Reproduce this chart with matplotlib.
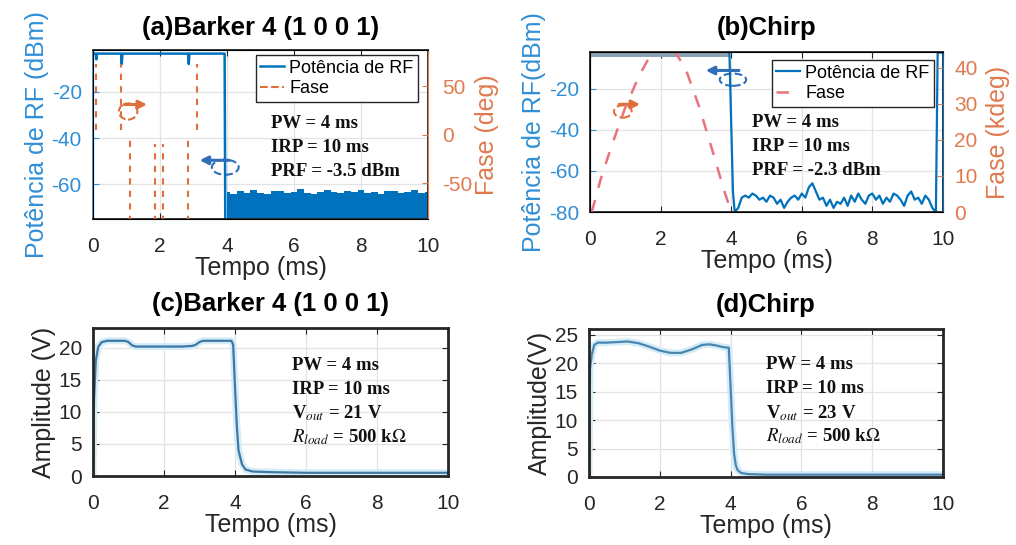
import numpy as np
import matplotlib
matplotlib.use("Agg")
import matplotlib.pyplot as plt
from matplotlib.patches import Ellipse

plt.rcParams['font.family'] = ['Liberation Sans', 'DejaVu Sans']
plt.rcParams['mathtext.fontset'] = 'stix'
plt.rcParams['axes.unicode_minus'] = False

# -----------------------------
# Data
# -----------------------------
# (a) Barker 4 - RF power during the pulse (dBm)
barker_t = [0.0, 0.08, 0.10, 0.12, 0.84, 0.86, 0.88, 2.84, 2.86, 2.88, 3.93, 3.95]
barker_p = [-3.5, -3.5, -6.0, -3.5, -3.5, -8.0, -3.5, -3.5, -8.0, -3.5, -3.5, -75.0]
# (a) noise floor after the pulse (upper envelope, dBm)
barker_noise_t = [4.0, 4.2, 4.4, 4.6, 4.8, 5.0, 5.2, 5.4, 5.6, 5.8, 6.0, 6.2, 6.4, 6.6, 6.8, 7.0,
                  7.2, 7.4, 7.6, 7.8, 8.0, 8.2, 8.4, 8.6, 8.8, 9.0, 9.2, 9.4, 9.6, 9.8, 10.0]
barker_noise_p = [-63.5, -64.0, -63.0, -63.8, -62.5, -63.6, -64.2, -63.0, -62.8, -63.9, -63.2,
                  -62.2, -63.7, -64.0, -63.1, -62.6, -63.5, -63.9, -62.9, -63.4, -62.4, -63.8,
                  -63.2, -64.1, -63.0, -62.7, -63.6, -63.3, -62.5, -63.9, -63.4]
# (a) phase transitions (deg): time, lower end, upper end
barker_phase_t = [0.10, 0.85, 1.10, 1.85, 2.10, 2.85, 3.10]
barker_phase_lo = [5, 5, -90, -90, -90, -90, 5]
barker_phase_hi = [73, 73, 0, -10, -10, 0, 73]

# (b) Chirp - RF power (dBm)
chirp_t = [0.0, 3.95, 4.05, 4.1, 4.2, 4.3, 4.4, 4.5, 4.6, 4.7, 4.8, 4.9, 5.0, 5.1, 5.2, 5.3,
           5.4, 5.5, 5.6, 5.7, 5.8, 5.9, 6.0, 6.1, 6.2, 6.3, 6.4, 6.5, 6.6, 6.7, 6.8, 6.9,
           7.0, 7.1, 7.2, 7.3, 7.4, 7.5, 7.6, 7.7, 7.8, 7.9, 8.0, 8.1, 8.2, 8.3, 8.4, 8.5,
           8.6, 8.7, 8.8, 8.9, 9.0, 9.1, 9.2, 9.3, 9.4, 9.5, 9.6, 9.7, 9.8, 9.85, 10.0]
chirp_p = [-2.3, -2.3, -70, -80, -78, -73, -72, -73, -71, -72, -74, -73, -75, -72, -73, -76,
           -74, -78, -75, -73, -72, -74, -71, -73, -68, -66, -70, -74, -73, -77, -74, -78,
           -75, -76, -73, -77, -72, -75, -71, -74, -76, -72, -71, -74, -72, -76, -73, -75,
           -71, -72, -74, -77, -72, -70, -74, -73, -76, -72, -74, -78, -80, -2.3, -2.3]
# (b) chirp phase (kdeg)
chirp_phase_t = [0.05, 0.3, 0.6, 1.0, 1.4, 1.8, 2.05, 2.3, 2.7, 3.1, 3.5, 3.8, 4.0]
chirp_phase = [0, 9, 18, 29, 38, 45, 47, 46, 40, 29, 16, 6, 0]

# (c) Barker 4 - detected amplitude (V)
amp_b_t = [0, 0.03, 0.08, 0.15, 0.25, 0.4, 0.9, 1.0, 1.1, 1.2, 1.5, 2.0, 2.5, 2.8, 2.9, 3.0,
           3.1, 3.5, 3.9, 3.95, 4.0, 4.05, 4.1, 4.2, 4.3, 4.5, 5, 6, 7, 8, 9, 10]
amp_b_v = [0, 12, 18, 20.2, 20.9, 21.1, 21.1, 20.9, 20.4, 20.2, 20.2, 20.2, 20.2, 20.3, 20.5,
           20.9, 21.1, 21.1, 21.1, 20.5, 14, 8, 4, 1.8, 1.0, 0.7, 0.6, 0.5, 0.5, 0.5, 0.5, 0.5]

# (d) Chirp - detected amplitude (V)
amp_c_t = [0, 0.03, 0.08, 0.15, 0.25, 0.5, 0.8, 1.1, 1.4, 1.7, 2.0, 2.3, 2.6, 2.9, 3.2, 3.4,
           3.6, 3.8, 3.95, 4.0, 4.05, 4.1, 4.15, 4.2, 4.3, 4.5, 5, 6, 7, 8, 9, 10]
amp_c_v = [0, 19, 21.5, 23.2, 23.6, 23.6, 23.7, 23.8, 23.5, 22.9, 22.2, 21.8, 21.8, 22.4, 23.2,
           23.3, 23.1, 22.8, 22.7, 16, 9, 4, 2, 1.2, 0.7, 0.5, 0.4, 0.4, 0.4, 0.4, 0.4, 0.4]

# -----------------------------
# Style
# -----------------------------
BLUE = "#0072BD"
BLUE_TXT = "#2f8fd6"
ORANGE = "#E0703A"
ORANGE_TXT = "#e07a4f"
PINK = "#e8737d"
DARK = "#262626"
GRID = "#e3e3e3"

TICK_FS = 15
LABEL_FS = 18
TITLE_FS = 18.5
NOTE_FS = 13.5
LEG_FS = 13


def base_axes(ax, ylim, yticks):
    ax.set_xlim(0, 10)
    ax.set_xticks([0, 2, 4, 6, 8, 10])
    ax.set_ylim(*ylim)
    ax.set_yticks(yticks)
    ax.grid(True, color=GRID, linewidth=0.9)
    ax.set_axisbelow(True)
    ax.tick_params(direction="in", labelsize=TICK_FS, colors=DARK, length=4, top=True)
    ax.tick_params(axis="x", pad=13)
    ax.tick_params(axis="y", pad=8)
    ax.set_xlabel("Tempo (ms)", fontsize=LABEL_FS, color=DARK, labelpad=0)
    for s in ax.spines.values():
        s.set_color(DARK)
        s.set_linewidth(1.3)


def notes(ax, x, y, lines, dy):
    for i, s in enumerate(lines):
        ax.text(x, y - i * dy, s, fontsize=NOTE_FS, fontweight="bold",
                family="Liberation Serif", color="#111111", va="center")


def dir_mark(ax, xy_from, xy_to, center, w, h, color):
    ax.annotate("", xy=xy_to, xytext=xy_from,
                arrowprops=dict(arrowstyle="-|>", color=color, lw=2.2, mutation_scale=12))
    ax.add_patch(Ellipse(center, w, h, fill=False, ls="--", lw=1.5, ec=color))


def legend(ax, handles, labels, anchor):
    ax.legend(handles, labels, loc="upper right", fontsize=LEG_FS, frameon=True,
              fancybox=False, edgecolor=DARK, framealpha=1, handlelength=1.3,
              handletextpad=0.3, borderpad=0.25, labelspacing=0.2,
              borderaxespad=0, bbox_to_anchor=anchor)


fig = plt.figure(figsize=(10.16, 5.45), dpi=100)

# ---------- (a) ----------
ax_a = fig.add_axes([0.0915, 0.598, 0.3297, 0.310])
base_axes(ax_a, (-75, -2), [-60, -40, -20])
ax_a.tick_params(axis="y", colors=BLUE_TXT, right=False)
ax_a.spines["left"].set_color(BLUE_TXT)
ax_a.fill_between(barker_noise_t, -75, barker_noise_p, step="mid", color=BLUE, lw=0)
ax_a.plot(barker_t, barker_p, color=BLUE, lw=1.8, label="Potência de RF")
ax_a.set_ylabel("Potência de RF (dBm)", fontsize=LABEL_FS, color=BLUE_TXT, labelpad=2)
ax_a.set_title("(a)Barker 4 (1 0 0 1)", fontsize=TITLE_FS, fontweight="bold", pad=11)

ax_a2 = ax_a.twinx()
ax_a2.set_ylim(-87, 87)
ax_a2.set_yticks([-50, 0, 50])
ax_a2.tick_params(direction="in", labelsize=TICK_FS, colors=ORANGE_TXT, length=4, pad=10)
ax_a2.spines["right"].set_color(ORANGE_TXT)
ax_a2.vlines(barker_phase_t, barker_phase_lo, barker_phase_hi, colors=ORANGE,
             linestyles=(0, (3, 3)), lw=1.5)
ax_a2.plot([], [], color=ORANGE, ls="--", lw=1.5, label="Fase")
ax_a2.set_ylabel("Fase (deg)", fontsize=LABEL_FS, color=ORANGE_TXT, labelpad=2)

h1, l1 = ax_a.get_legend_handles_labels()
h2, l2 = ax_a2.get_legend_handles_labels()
legend(ax_a2, h1 + h2, l1 + l2, (0.97, 0.97))
notes(ax_a, 5.3, -33.5, ["PW = 4 ms", "IRP = 10 ms", "PRF = -3.5 dBm"], 10.4)
dir_mark(ax_a, (0.85, -25.5), (1.7, -25.5), (1.05, -28.5), 0.55, 7, ORANGE)
dir_mark(ax_a, (4.15, -49.6), (3.1, -49.6), (3.95, -52.6), 0.8, 6.5, "#2f6fb8")

# ---------- (b) ----------
ax_b = fig.add_axes([0.5807, 0.611, 0.3474, 0.2936])
base_axes(ax_b, (-80, -2), [-80, -60, -40, -20])
ax_b.tick_params(axis="y", colors=BLUE_TXT, right=False)
ax_b.spines["left"].set_color(DARK)
ax_b.plot(chirp_t[:2], chirp_p[:2], color="#8ca3b5", lw=5, solid_capstyle="butt")
ax_b.plot(chirp_t[1:], chirp_p[1:], color=BLUE, lw=1.6, label="Potência de RF")
ax_b.set_ylabel("Potência de RF(dBm)", fontsize=LABEL_FS, color=BLUE_TXT, labelpad=2)
ax_b.set_title("(b)Chirp", fontsize=TITLE_FS, fontweight="bold", pad=12)

ax_b2 = ax_b.twinx()
ax_b2.set_ylim(0, 44.4)
ax_b2.set_yticks([0, 10, 20, 30, 40])
ax_b2.tick_params(direction="in", labelsize=TICK_FS, colors=ORANGE_TXT, length=4, pad=8)
ax_b2.spines["right"].set_color(BLUE)
ax_b2.plot(chirp_phase_t, chirp_phase, color=PINK, ls=(0, (5, 5)), lw=1.8, label="Fase")
ax_b2.set_ylabel("Fase (kdeg)", fontsize=LABEL_FS, color=ORANGE_TXT, labelpad=6)

h1, l1 = ax_b.get_legend_handles_labels()
h2, l2 = ax_b2.get_legend_handles_labels()
legend(ax_b2, h1[-1:] + h2, l1[-1:] + l2, (0.975, 0.95))
notes(ax_b, 4.6, -36.5, ["PW = 4 ms", "IRP = 10 ms", "PRF = -2.3 dBm"], 11.7)
dir_mark(ax_b, (4.3, -11), (3.2, -11), (4.05, -15.5), 0.75, 6, "#2f6fb8")
dir_mark(ax_b, (0.75, -27.5), (1.5, -27.5), (0.93, -31), 0.5, 6, ORANGE)

# ---------- (c) ----------
ax_c = fig.add_axes([0.0915, 0.1266, 0.3494, 0.2716])
base_axes(ax_c, (0, 23.1), [0, 5, 10, 15, 20])
ax_c.tick_params(right=True)
ax_c.plot(amp_b_t, amp_b_v, color="#d3ecf8", lw=5)
ax_c.plot(amp_b_t, amp_b_v, color="#3f79a3", lw=1.6)
ax_c.set_ylabel("Amplitude (V)", fontsize=LABEL_FS, color=DARK, labelpad=2)
ax_c.set_title("(c)Barker 4 (1 0 0 1)", fontsize=TITLE_FS, fontweight="bold", pad=12)
for s in ax_c.spines.values():
    s.set_linewidth(2)
notes(ax_c, 5.6, 17.3, ["PW = 4 ms", "IRP = 10 ms", r"V$_{out}$ = 21 V",
                        r"$R_{load}$ = 500 k$\Omega$"], 3.75)

# ---------- (d) ----------
ax_d = fig.add_axes([0.5797, 0.1248, 0.3484, 0.2716])
base_axes(ax_d, (0, 26), [0, 5, 10, 15, 20, 25])
ax_d.tick_params(right=True)
ax_d.plot(amp_c_t, amp_c_v, color="#d3ecf8", lw=5)
ax_d.plot(amp_c_t, amp_c_v, color="#4b86b0", lw=1.6)
ax_d.set_ylabel("Amplitude(V)", fontsize=LABEL_FS, color=DARK, labelpad=2)
ax_d.set_title("(d)Chirp", fontsize=TITLE_FS, fontweight="bold", pad=12)
for s in ax_d.spines.values():
    s.set_linewidth(2)
notes(ax_d, 5.0, 19.7, ["PW = 4 ms", "IRP = 10 ms", r"V$_{out}$ = 23 V",
                        r"$R_{load}$ = 500 k$\Omega$"], 4.2)

fig.savefig("out.png", dpi=100)
